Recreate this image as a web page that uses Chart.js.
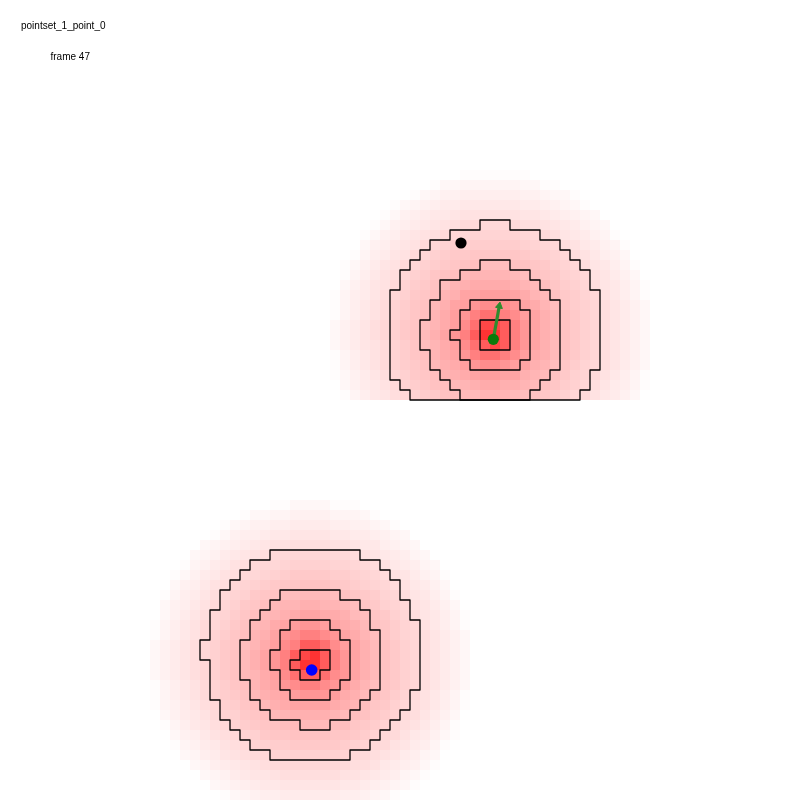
<!DOCTYPE html>
<html>
<head>
<meta charset="utf-8">
<script src="https://cdn.jsdelivr.net/npm/chart.js@4.4.1/dist/chart.umd.min.js"></script>
<style>
html,body{margin:0;padding:0;background:#ffffff;}
#wrap{width:800px;height:800px;position:relative;}
</style>
</head>
<body>
<div id="wrap"><canvas id="c" width="800" height="800"></canvas></div>
<script>
// ---- data (grid units: 80 x 80 cells) ----
const titleLines = ['pointset_1_point_0', 'frame 47'];

// heat blobs
const blobNames = ['upper', 'lower'];
const blobCenterX = [49.2, 31.1];
const blobCenterY = [33.4, 66.1];
const blobRowFirst = [0, 40];
const blobRowLast = [39, 79];
// red intensity (0..1) read at half-cell distance steps from the blob centre
const radialIntensity = [0.86, 0.80, 0.72, 0.64, 0.56, 0.50, 0.45, 0.41, 0.38, 0.355, 0.33, 0.31, 0.29, 0.272, 0.255, 0.24, 0.225, 0.21, 0.195, 0.182, 0.17, 0.157, 0.145, 0.13, 0.115, 0.102, 0.09, 0.079, 0.068, 0.056, 0.045, 0.03, 0.01];

// contour outlines: first row, then left / right cell edges for each row
const contourFirstRow = [22, 26, 30, 32, 55, 59, 62, 65];
const contourLeft = [
  [48,45,43,42,41,40,40,39,39,39,39,39,39,39,39,39,40,41],
  [48,46,44,44,43,43,42,42,42,43,43,44,45,46],
  [47,46,46,45,46,46,47],
  [48,48,48],
  [27,25,24,23,22,22,21,21,21,20,20,21,21,21,21,22,22,23,24,25,27],
  [28,27,26,25,25,24,24,24,24,25,25,26,27,30],
  [29,28,28,27,27,28,28,29],
  [30,29,30]
];
const contourRight = [
  [51,54,56,57,58,59,59,60,60,60,60,60,60,60,60,59,59,58],
  [51,53,54,55,56,56,56,56,56,56,56,55,54,53],
  [52,53,53,53,53,53,52],
  [51,51,51],
  [36,38,39,40,40,41,41,42,42,42,42,42,42,42,41,41,40,39,38,37,35],
  [34,36,37,37,38,38,38,38,38,38,37,36,35,33],
  [33,34,35,35,35,35,34,33],
  [33,33,32]
];

// markers
const predictedPoint = [49.33, 33.93];
const motionEnd = [49.93, 30.6];
const blackPoint = [46.1, 24.3];
const bluePoint = [31.17, 67.0];

// ---- build datasets ----
const gridSize = 80;
const heatPoints = [];
const heatColors = [];
for (let b = 0; b < blobNames.length; b++) {
  for (let r = blobRowFirst[b]; r <= blobRowLast[b]; r++) {
    for (let c = 0; c < gridSize; c++) {
      const d = Math.hypot(c + 0.5 - blobCenterX[b], r + 0.5 - blobCenterY[b]);
      const k = Math.round(d * 2);
      if (k >= radialIntensity.length) continue;
      const a = radialIntensity[k];
      const g = Math.round(255 * (1 - a));
      heatPoints.push({x: c + 0.5, y: r + 0.5});
      heatColors.push('rgb(255,' + g + ',' + g + ')');
    }
  }
}

function contourPath(i) {
  const pts = [];
  const f = contourFirstRow[i], L = contourLeft[i], R = contourRight[i];
  for (let j = 0; j < R.length; j++) {
    pts.push({x: R[j], y: f + j});
    pts.push({x: R[j], y: f + j + 1});
  }
  for (let j = L.length - 1; j >= 0; j--) {
    pts.push({x: L[j], y: f + j + 1});
    pts.push({x: L[j], y: f + j});
  }
  pts.push({x: pts[0].x, y: pts[0].y});
  return pts;
}

const datasets = [];
datasets.push({
  label: 'heat',
  data: heatPoints,
  pointStyle: 'rect',
  pointRadius: 5 * Math.SQRT2 + 0.001,
  pointBorderWidth: 0,
  borderWidth: 0,
  pointBackgroundColor: heatColors,
  backgroundColor: heatColors,
  order: 10
});
for (let i = 0; i < contourFirstRow.length; i++) {
  datasets.push({
    label: 'contour' + i,
    data: contourPath(i),
    showLine: true,
    borderColor: '#000000',
    borderWidth: 1.3,
    pointRadius: 0,
    tension: 0,
    fill: false,
    borderJoinStyle: 'round',
    order: 5
  });
}
const arrowAngle = Math.atan2(motionEnd[0] - predictedPoint[0], predictedPoint[1] - motionEnd[1]) * 180 / Math.PI;
datasets.push({
  label: 'motion',
  data: [{x: predictedPoint[0], y: predictedPoint[1]}, {x: motionEnd[0], y: motionEnd[1]}],
  showLine: true,
  borderColor: '#2e8b2e',
  borderWidth: 3.2,
  pointRadius: [0, 4],
  pointStyle: 'triangle',
  rotation: arrowAngle,
  pointBackgroundColor: '#2e8b2e',
  pointBorderColor: '#2e8b2e',
  pointBorderWidth: 1,
  order: 2
});
datasets.push({
  label: 'predicted',
  data: [{x: predictedPoint[0], y: predictedPoint[1]}],
  pointRadius: 5.6,
  pointBackgroundColor: '#0a7a0a',
  pointBorderColor: '#0a7a0a',
  pointBorderWidth: 0,
  order: 1
});
datasets.push({
  label: 'black',
  data: [{x: blackPoint[0], y: blackPoint[1]}],
  pointRadius: 5.6,
  pointBackgroundColor: '#000000',
  pointBorderWidth: 0,
  order: 1
});
datasets.push({
  label: 'truth',
  data: [{x: bluePoint[0], y: bluePoint[1]}],
  pointRadius: 5.8,
  pointBackgroundColor: '#0000ff',
  pointBorderWidth: 0,
  order: 1
});

const textPlugin = {
  id: 'frameText',
  afterDraw(chart) {
    const ctx = chart.ctx;
    ctx.save();
    ctx.fillStyle = '#000000';
    ctx.font = '10px "Liberation Sans", Arial, sans-serif';
    ctx.textBaseline = 'alphabetic';
    ctx.textAlign = 'left';
    ctx.fillText(titleLines[0], 21, 29);
    ctx.fillText(titleLines[1], 50.5, 60);
    ctx.restore();
  }
};

new Chart(document.getElementById('c'), {
  type: 'scatter',
  data: {datasets: datasets},
  options: {
    responsive: false,
    devicePixelRatio: 1,
    animation: false,
    events: [],
    layout: {padding: 0, autoPadding: false},
    plugins: {legend: {display: false}, tooltip: {enabled: false}},
    scales: {
      x: {type: 'linear', min: 0, max: gridSize, display: false},
      y: {type: 'linear', min: 0, max: gridSize, reverse: true, display: false}
    }
  },
  plugins: [textPlugin]
});
</script>
</body>
</html>
